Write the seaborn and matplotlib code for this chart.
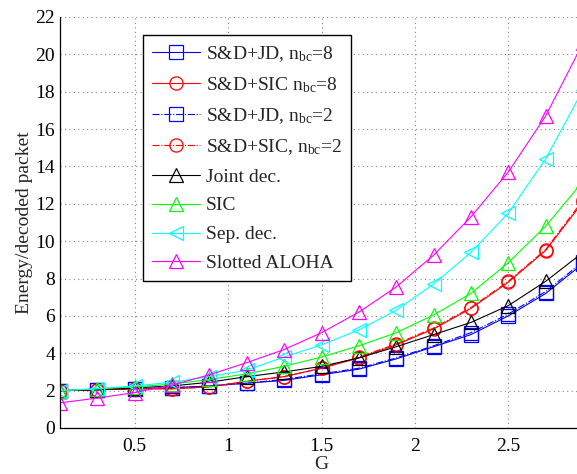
import matplotlib
matplotlib.use("Agg")
import matplotlib.pyplot as plt
import seaborn as sns

G = [0.1, 0.3, 0.5, 0.7, 0.9, 1.1, 1.3, 1.5, 1.7, 1.9, 2.1, 2.3, 2.5, 2.7, 2.9]

sd_jd_8 = [2.0, 2.05, 2.1, 2.15, 2.25, 2.4, 2.55, 2.85, 3.15, 3.7, 4.35, 5.0, 6.0, 7.2, 8.8]
sd_sic_8 = [2.0, 2.05, 2.1, 2.1, 2.2, 2.5, 2.75, 3.2, 3.75, 4.45, 5.3, 6.4, 7.8, 9.5, 12.1]
sd_jd_2 = [2.0, 2.05, 2.1, 2.15, 2.25, 2.4, 2.6, 2.9, 3.2, 3.75, 4.4, 5.1, 6.1, 7.3, 8.9]
sd_sic_2 = [2.0, 2.05, 2.1, 2.1, 2.2, 2.5, 2.75, 3.2, 3.8, 4.5, 5.35, 6.45, 7.85, 9.55, 12.2]
joint_dec = [2.0, 2.05, 2.15, 2.25, 2.45, 2.75, 3.0, 3.3, 3.75, 4.35, 5.0, 5.65, 6.55, 7.85, 9.4]
sic = [2.0, 2.1, 2.2, 2.35, 2.6, 2.9, 3.3, 3.8, 4.4, 5.1, 6.05, 7.2, 8.85, 10.8, 13.2]
sep_dec = [2.0, 2.1, 2.25, 2.45, 2.75, 3.1, 3.8, 4.45, 5.25, 6.3, 7.7, 9.4, 11.5, 14.4, 18.1]
aloha = [1.35, 1.6, 1.9, 2.3, 2.85, 3.5, 4.2, 5.1, 6.2, 7.55, 9.25, 11.3, 13.7, 16.7, 20.6]

labels = [r"S&D+JD, n$_{\mathrm{bc}}$=8", r"S&D+SIC n$_{\mathrm{bc}}$=8",
          r"S&D+JD, n$_{\mathrm{bc}}$=2", r"S&D+SIC, n$_{\mathrm{bc}}$=2",
          "Joint dec.", "SIC", "Sep. dec.", "Slotted ALOHA"]
series = [sd_jd_8, sd_sic_8, sd_jd_2, sd_sic_2, joint_dec, sic, sep_dec, aloha]
colors = ["#0000ff", "#ff0000", "#0000ff", "#ff0000", "#000000", "#00ff00", "#00ffff", "#ff00ff"]
markers = ["s", "o", "s", "o", "^", "^", "<", "^"]
styles = ["-", "-", "-.", "-.", "-", "-", "-", "-"]

sns.set_style("white")
plt.rcParams["font.family"] = ["Liberation Serif", "DejaVu Serif"]
plt.rcParams["mathtext.fontset"] = "custom"
plt.rcParams["mathtext.rm"] = "Liberation Serif"
plt.rcParams["mathtext.it"] = "Liberation Serif:italic"

fig = plt.figure(figsize=(5.77, 4.74), dpi=100)
ax = fig.add_axes([60 / 577, 46 / 474, 523 / 577, 411 / 474])

for vals, lab, c, m, ls in zip(series, labels, colors, markers, styles):
    sns.lineplot(x=G, y=vals, color=c, marker=m, linestyle=ls, lw=0.8,
                 ms=9.5, mfc="none", mec=c, mew=0.9, label=lab, ax=ax)

ax.set_xlim(0.1, 2.9)
ax.set_ylim(0, 22)
ax.set_xticks([0.5, 1, 1.5, 2, 2.5])
ax.set_xticklabels(["0.5", "1", "1.5", "2", "2.5"])
ax.set_yticks(range(0, 23, 2))
ax.grid(True, linestyle=(0, (1, 3)), color="#888888", lw=0.8)
ax.tick_params(direction="in", length=4, labelsize=14, colors="black")
ax.tick_params(axis="x", pad=7)
for s in ["top", "right"]:
    ax.spines[s].set_visible(False)
for s in ["left", "bottom"]:
    ax.spines[s].set_color("black")
    ax.spines[s].set_linewidth(0.9)

ax.set_xlabel("G", fontsize=14, labelpad=1)
ax.set_ylabel("Energy/decoded packet", fontsize=14, labelpad=2)

leg = ax.legend(loc="upper left", bbox_to_anchor=(83 / 523, 393 / 411), borderaxespad=0,
                fontsize=14, frameon=True, fancybox=False, edgecolor="black",
                handlelength=2.5, handletextpad=0.3, labelspacing=0.58, borderpad=0.45)
leg.get_frame().set_linewidth(1.0)
leg.get_frame().set_alpha(1)

fig.savefig("out.png", dpi=100)
